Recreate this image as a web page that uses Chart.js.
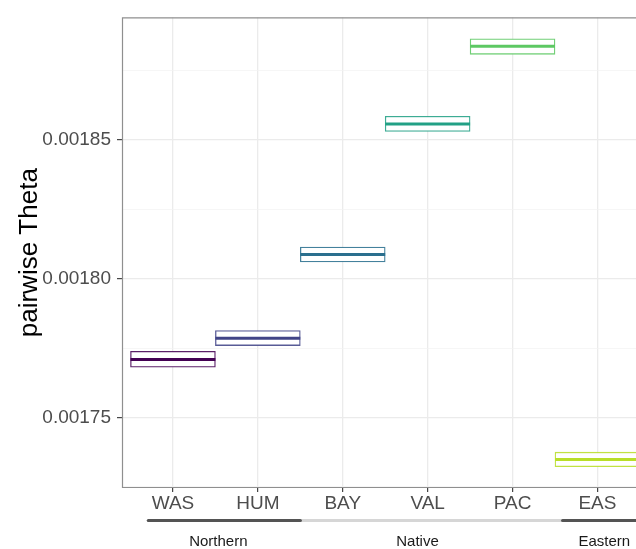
<!DOCTYPE html>
<html>
<head>
<meta charset="utf-8">
<script src="https://cdn.jsdelivr.net/npm/chart.js@4/dist/chart.umd.min.js"></script>
<style>
  html, body { margin: 0; padding: 0; background: #ffffff; overflow: hidden; }
  canvas { display: block; }
</style>
</head>
<body>
<canvas id="theta" width="636" height="549"></canvas>
<script>
// Populations along the x axis
const POPULATIONS = ['WAS', 'HUM', 'BAY', 'VAL', 'PAC', 'EAS'];

// Pairwise theta per population: lower hinge, median, upper hinge
const THETA_LOWER  = [0.0017681, 0.0017759, 0.0018060, 0.0018530, 0.0018808, 0.0017323];
const THETA_MEDIAN = [0.0017709, 0.0017785, 0.0018087, 0.0018557, 0.0018837, 0.0017349];
const THETA_UPPER  = [0.0017738, 0.0017813, 0.0018114, 0.0018585, 0.0018864, 0.0017375];

// Y axis: labelled breaks and the unlabelled breaks between them
const Y_MAJOR = [0.00175, 0.00180, 0.00185];
const Y_MINOR = [0.001725, 0.001775, 0.001825, 0.001875];

// Region groups shown under the axis (spans in population units)
const GROUP_NAMES = ['Northern', 'Native', 'Eastern'];
const GROUP_FROM  = [-0.29, 1.5, 4.59];
const GROUP_TO    = [1.5, 4.59, 5.7];
const GROUP_LABEL_AT = [0.535, 2.88, 5.08];

// ---- styling ----
const FONT = "'Liberation Sans', Arial, Helvetica, sans-serif";
const POP_COLORS = ['#440154', '#414487', '#2A6F8E', '#22A085', '#5DC863', '#B8DE29'];
const GROUP_SHADES = ['#545454', '#D6D6D6', '#545454'];

function withAlpha(hex, a) {
  const n = parseInt(hex.slice(1), 16);
  return `rgba(${(n >> 16) & 255}, ${(n >> 8) & 255}, ${n & 255}, ${a})`;
}

const isMajor = v => Y_MAJOR.some(m => Math.abs(m - v) < 1e-10);

// Frame around the panel (left, top, bottom; the right side runs off the page)
const panelFrame = {
  id: 'panelFrame',
  afterDatasetsDraw(chart) {
    const { ctx, chartArea: a } = chart;
    ctx.save();
    ctx.strokeStyle = '#8F8F8F';
    ctx.lineWidth = 1.2;
    ctx.beginPath();
    ctx.moveTo(a.right + 2, a.top + 0.5);
    ctx.lineTo(a.left + 0.5, a.top + 0.5);
    ctx.lineTo(a.left + 0.5, a.bottom - 0.5);
    ctx.lineTo(a.right + 2, a.bottom - 0.5);
    ctx.stroke();
    ctx.restore();
  }
};

// Group bars and names beneath the population labels
const groupStrip = {
  id: 'groupStrip',
  afterDraw(chart) {
    const { ctx } = chart;
    const x = chart.scales.x;
    const lineY = 520.5, labelY = 541.5;
    ctx.save();
    ctx.lineWidth = 3.2;
    ctx.lineCap = 'round';
    // light span first so the dark ends sit on top
    [1, 0, 2].forEach(i => {
      ctx.strokeStyle = GROUP_SHADES[i];
      ctx.beginPath();
      ctx.moveTo(x.getPixelForValue(GROUP_FROM[i]), lineY);
      ctx.lineTo(x.getPixelForValue(GROUP_TO[i]), lineY);
      ctx.stroke();
    });
    ctx.fillStyle = '#1A1A1A';
    ctx.font = `15px ${FONT}`;
    ctx.textAlign = 'center';
    ctx.textBaseline = 'middle';
    GROUP_NAMES.forEach((name, i) => {
      ctx.fillText(name, x.getPixelForValue(GROUP_LABEL_AT[i]), labelY);
    });
    ctx.restore();
  }
};

const halfSlot = ctx => {
  const s = ctx.chart.scales.x;
  return (s.getPixelForValue(1) - s.getPixelForValue(0)) / 2;
};

new Chart(document.getElementById('theta'), {
  type: 'bar',
  data: {
    datasets: [
      {
        type: 'line',
        label: 'median',
        order: 0,
        data: POPULATIONS.map((_, i) => ({ x: i, y: THETA_MEDIAN[i] })),
        showLine: false,
        pointStyle: 'line',
        pointRadius: halfSlot,
        pointHoverRadius: halfSlot,
        pointBorderWidth: 3,
        pointHoverBorderWidth: 3,
        pointBorderColor: POP_COLORS,
        pointBackgroundColor: POP_COLORS
      },
      {
        type: 'bar',
        label: 'hinges',
        order: 1,
        data: POPULATIONS.map((_, i) => ({ x: i, y: [THETA_LOWER[i], THETA_UPPER[i]] })),
        backgroundColor: '#ffffff',
        borderColor: POP_COLORS.map(c => withAlpha(c, 0.88)),
        borderWidth: 1.3,
        borderSkipped: false,
        barPercentage: 1,
        categoryPercentage: 1
      }
    ]
  },
  options: {
    responsive: false,
    animation: false,
    events: [],
    layout: { padding: { top: 15, right: 0, bottom: 0, left: 0 } },
    plugins: {
      legend: { display: false },
      tooltip: { enabled: false }
    },
    scales: {
      x: {
        type: 'linear',
        offset: false,
        min: -0.6,
        max: 5.454,
        afterBuildTicks: axis => { axis.ticks = POPULATIONS.map((_, i) => ({ value: i })); },
        afterFit: scale => { scale.height = 61; },
        border: { display: false },
        grid: {
          offset: false,
          color: '#EBEBEB',
          lineWidth: 1.3,
          drawTicks: true,
          tickLength: 4,
          tickColor: '#333333',
          tickWidth: 1.1
        },
        ticks: {
          autoSkip: false,
          maxRotation: 0,
          padding: 0,
          color: '#4D4D4D',
          font: { family: FONT, size: 19 },
          callback: v => POPULATIONS[v]
        }
      },
      y: {
        type: 'linear',
        min: 0.0017246,
        max: 0.0018941,
        afterBuildTicks: axis => {
          axis.ticks = Y_MAJOR.concat(Y_MINOR).sort((a, b) => a - b).map(v => ({ value: v }));
        },
        afterFit: scale => { scale.width = 122; },
        border: { display: false },
        grid: {
          color: ctx => (ctx.tick && isMajor(ctx.tick.value)) ? '#EBEBEB' : '#F2F2F2',
          lineWidth: ctx => (ctx.tick && isMajor(ctx.tick.value)) ? 1.3 : 0.7,
          drawTicks: true,
          tickLength: 5,
          tickColor: ctx => (ctx.tick && isMajor(ctx.tick.value)) ? '#333333' : 'rgba(0,0,0,0)',
          tickWidth: 1.1
        },
        ticks: {
          padding: 6,
          color: '#4D4D4D',
          font: { family: FONT, size: 19 },
          callback: v => isMajor(v) ? v.toFixed(5) : ''
        },
        title: {
          display: true,
          text: 'pairwise Theta',
          color: '#000000',
          font: { family: FONT, size: 26 },
          padding: { top: 14, bottom: 0 }
        }
      }
    }
  },
  plugins: [panelFrame, groupStrip]
});
</script>
</body>
</html>
